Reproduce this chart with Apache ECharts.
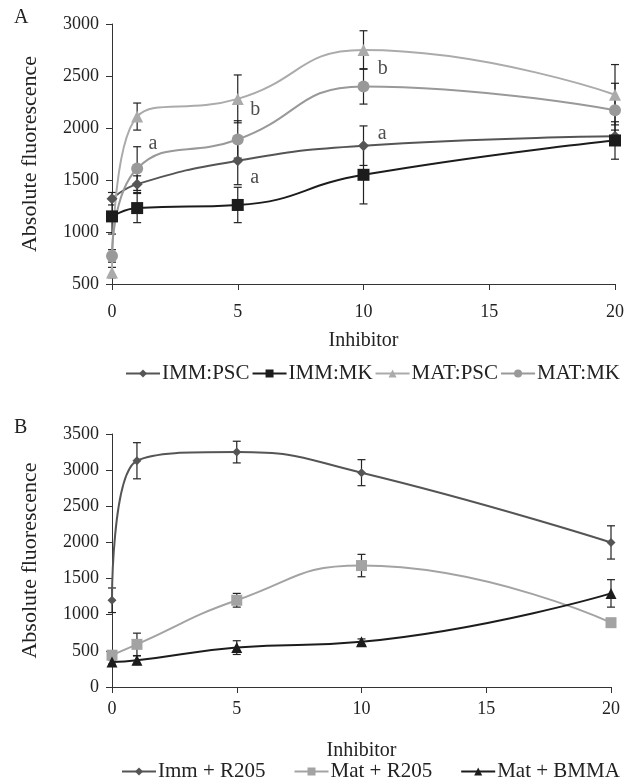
<!DOCTYPE html>
<html><head><meta charset="utf-8">
<script src="https://cdn.jsdelivr.net/npm/echarts@6/dist/echarts.min.js"></script>
<style>html,body{margin:0;padding:0;background:#fff}#c{width:627px;height:783px}</style>
</head><body><div id="c"></div>
<script>
// ---- Panel A data ----
const xA = [0, 1, 5, 10, 20];
const immPsc = [1320, 1460, 1685, 1830, 1920];
const immPscErr = [60, 80, 230, 190, 60];
const immMk = [1150, 1230, 1260, 1550, 1880];
const immMkErr = [170, 140, 170, 280, 180];
const matPsc = [610, 2110, 2280, 2750, 2320];
const matPscErr = [50, 130, 230, 185, 290];
const matMk = [770, 1610, 1890, 2400, 2170];
const matMkErr = [60, 210, 180, 170, 260];
const annAx = [1.45, 5.5, 5.5, 10.57, 10.57];
const annAy = [1850, 2180, 1520, 2565, 1945];
const annAt = ['a', 'b', 'a', 'b', 'a'];
const yTicksA = [500, 3000, 500]; // min, max, step

// ---- Panel B data ----
const xB = [0, 1, 5, 10, 20];
const immR = [1200, 3130, 3250, 2965, 2000];
const immRErr = [170, 250, 150, 180, 230];
const matR = [440, 590, 1200, 1680, 890];
const matRErr = [0, 155, 95, 155, 0];
const matB = [345, 370, 545, 625, 1295];
const matBErr = [30, 60, 95, 40, 190];
const yTicksB = [0, 3500, 500];

const FONT = 'Liberation Serif';
const AX = '#333';

function lineSeries(name, xs, ys, idx, color, symbol, size) {
  return {
    type: 'line', name: name, xAxisIndex: idx, yAxisIndex: idx,
    data: xs.map((x, i) => [x, ys[i]]),
    smooth: 0.5, symbol: symbol, symbolSize: size,
    lineStyle: { color: color, width: 2 },
    itemStyle: { color: color, borderWidth: 0 },
    z: 3
  };
}
function errSeries(name, xs, ys, es, idx) {
  return {
    type: 'custom', name: name + ' error', xAxisIndex: idx, yAxisIndex: idx,
    data: xs.map((x, i) => [x, ys[i], es[i]]),
    z: 2,
    renderItem: function (params, api) {
      const x = api.value(0), y = api.value(1), e = api.value(2);
      if (!e) return null;
      const t = api.coord([x, y + e]), b = api.coord([x, y - e]);
      const w = 4;
      const st = { stroke: '#222', lineWidth: 1.2 };
      return { type: 'group', children: [
        { type: 'line', shape: { x1: t[0], y1: t[1], x2: b[0], y2: b[1] }, style: st },
        { type: 'line', shape: { x1: t[0] - w, y1: t[1], x2: t[0] + w, y2: t[1] }, style: st },
        { type: 'line', shape: { x1: b[0] - w, y1: b[1], x2: b[0] + w, y2: b[1] }, style: st }
      ]};
    }
  };
}
function xAxisCfg(idx, gap, margin) {
  return {
    type: 'value', gridIndex: idx, min: 0, max: 20, interval: 5,
    name: 'Inhibitor', nameLocation: 'middle', nameGap: gap,
    nameTextStyle: { fontFamily: FONT, fontSize: 20, color: '#222' },
    axisLine: { show: true, lineStyle: { color: AX, width: 1 } },
    axisTick: { show: true, length: 6, lineStyle: { color: AX } },
    axisLabel: { fontFamily: FONT, fontSize: 18, color: '#222', margin: margin },
    splitLine: { show: false }
  };
}
function yAxisCfg(idx, t) {
  return {
    type: 'value', gridIndex: idx, min: t[0], max: t[1], interval: t[2],
    name: 'Absolute fluorescence', nameLocation: 'middle', nameGap: 71,
    nameTextStyle: { fontFamily: FONT, fontSize: 22, color: '#222' },
    axisLine: { show: true, lineStyle: { color: AX, width: 1 } },
    axisTick: { show: true, length: 6, lineStyle: { color: AX } },
    axisLabel: { fontFamily: FONT, fontSize: 18, color: '#222', margin: 13,
      formatter: v => String(v) },
    splitLine: { show: false }
  };
}

const chart = echarts.init(document.getElementById('c'), null, { renderer: 'canvas' });
chart.setOption({
  animation: false,
  backgroundColor: '#fff',
  textStyle: { fontFamily: FONT },
  grid: [
    { left: 112, right: 10, top: 24, height: 260 },
    { left: 112, right: 16, top: 434, height: 253 }
  ],
  xAxis: [xAxisCfg(0, 47, 19), xAxisCfg(1, 54, 13)],
  yAxis: [yAxisCfg(0, yTicksA), yAxisCfg(1, yTicksB)],
  legend: [
    { data: ['IMM:PSC', 'IMM:MK', 'MAT:PSC', 'MAT:MK'], left: 120, top: 358,
      itemWidth: 34, itemHeight: 10, itemGap: 2,
      textStyle: { fontFamily: FONT, fontSize: 21, color: '#222', padding: [0, 0, 0, -3] } },
    { data: ['Imm + R205', 'Mat + R205', 'Mat + BMMA'], left: 116, top: 756,
      itemWidth: 34, itemHeight: 10, itemGap: 28,
      textStyle: { fontFamily: FONT, fontSize: 21, color: '#222', padding: [0, 0, 0, -3] } }
  ],
  graphic: [
    { type: 'text', left: 14, top: 8, style: { text: 'A', font: '20px "Liberation Serif"', fill: '#222' } },
    { type: 'text', left: 14, top: 418, style: { text: 'B', font: '20px "Liberation Serif"', fill: '#222' } }
  ],
  series: [
    errSeries('IMM:PSC', xA, immPsc, immPscErr, 0),
    errSeries('IMM:MK', xA, immMk, immMkErr, 0),
    errSeries('MAT:PSC', xA, matPsc, matPscErr, 0),
    errSeries('MAT:MK', xA, matMk, matMkErr, 0),
    lineSeries('IMM:PSC', xA, immPsc, 0, '#555555', 'diamond', 11),
    lineSeries('IMM:MK', xA, immMk, 0, '#1c1c1c', 'rect', 12),
    lineSeries('MAT:PSC', xA, matPsc, 0, '#ababab', 'triangle', 12),
    lineSeries('MAT:MK', xA, matMk, 0, '#999999', 'circle', 12),
    {
      type: 'scatter', name: 'annotations', xAxisIndex: 0, yAxisIndex: 0,
      data: annAx.map((x, i) => [x, annAy[i], annAt[i]]),
      symbolSize: 0, silent: true, z: 5,
      label: { show: true, position: [0, 0], align: 'left', verticalAlign: 'middle',
        fontFamily: FONT, fontSize: 20, color: '#222', formatter: p => p.value[2] }
    },
    errSeries('Imm + R205', xB, immR, immRErr, 1),
    errSeries('Mat + R205', xB, matR, matRErr, 1),
    errSeries('Mat + BMMA', xB, matB, matBErr, 1),
    lineSeries('Imm + R205', xB, immR, 1, '#555555', 'diamond', 9),
    lineSeries('Mat + R205', xB, matR, 1, '#a3a3a3', 'rect', 11),
    lineSeries('Mat + BMMA', xB, matB, 1, '#1c1c1c', 'triangle', 11)
  ]
});
</script></body></html>
